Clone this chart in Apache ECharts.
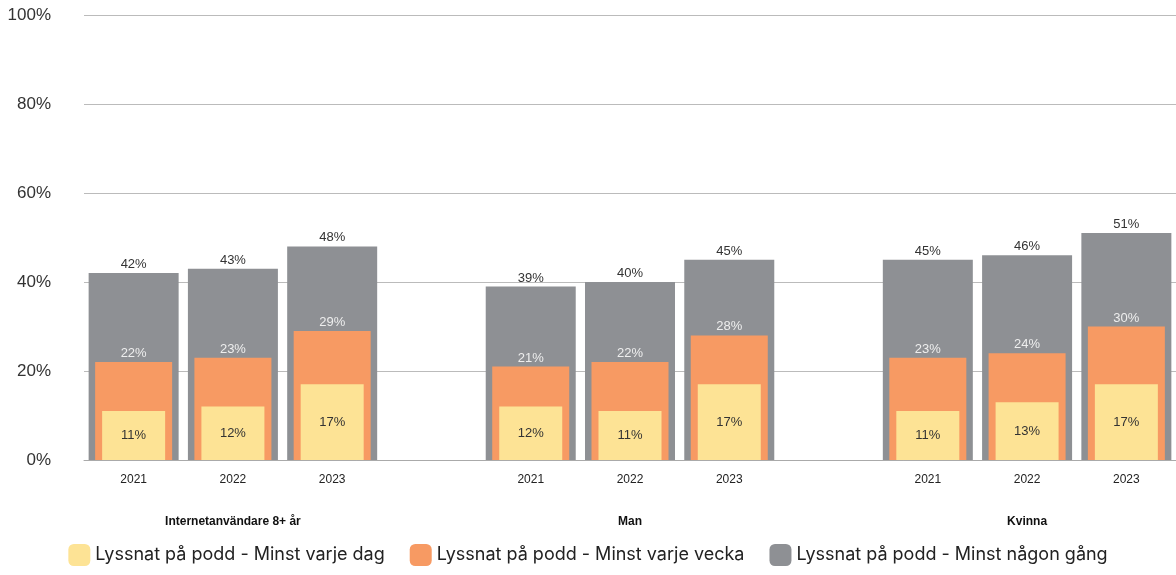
<!DOCTYPE html>
<html>
<head>
<meta charset="utf-8">
<script src="https://cdn.jsdelivr.net/npm/echarts@6/dist/echarts.min.js"></script>
<style>
html, body { margin: 0; padding: 0; background: #fff; }
#chart { width: 1176px; height: 575px; }
</style>
</head>
<body>
<div id="chart"></div>
<script>
// slots: 3 years per group, empty slot between groups
var years = ['2021', '2022', '2023', '', '2021', '2022', '2023', '', '2021', '2022', '2023'];
var groupLabels = ['', 'Internetanvändare 8+ år', '', '', '', 'Man', '', '', '', 'Kvinna', ''];
var seriesNames = ['Lyssnat på podd - Minst varje dag', 'Lyssnat på podd - Minst varje vecka', 'Lyssnat på podd - Minst någon gång'];
var dailyValues = [11, 12, 17, null, 12, 11, 17, null, 11, 13, 17];
var weeklyValues = [22, 23, 29, null, 21, 22, 28, null, 23, 24, 30];
var everValues = [42, 43, 48, null, 39, 40, 45, null, 45, 46, 51];
var yTicks = [0, 20, 40, 60, 80, 100];

var slotKeys = years.map(function(y, i) { return i + '|' + y; });

var myChart = echarts.init(document.getElementById('chart'));
var font = "'Liberation Sans', Arial, sans-serif";

// overlay axes so each series is centred in its own slot
function hiddenAxis() {
	return {
		type: 'category',
		data: slotKeys,
		show: false
	};
}

var option = {
	animation: false,
	textStyle: { fontFamily: font },
	grid: {
		left: 84,
		right: 0,
		top: 15,
		bottom: 115
	},
	legend: {
		bottom: 4,
		left: 'center',
		data: seriesNames,
		icon: 'roundRect',
		itemWidth: 22,
		itemHeight: 22,
		itemGap: 25,
		textStyle: {
			fontFamily: "Inter, 'Noto Sans', sans-serif",
			fontSize: 18,
			color: '#222'
		}
	},
	xAxis: [{
		type: 'category',
		data: slotKeys,
		axisLine: { show: true, lineStyle: { color: '#aaa', width: 1 } },
		axisTick: { show: false },
		axisLabel: {
			margin: 14,
			fontSize: 12,
			color: '#222',
			interval: 0,
			formatter: function(v) { return v.split('|')[1]; }
		}
	}, {
		type: 'category',
		position: 'bottom',
		offset: 48,
		data: slotKeys,
		axisLine: { show: false },
		axisTick: { show: false },
		axisLabel: {
			interval: 0,
			fontSize: 12,
			fontWeight: 'bold',
			color: '#111',
			formatter: function(v) { return groupLabels[+v.split('|')[0]]; }
		}
	}, hiddenAxis(), hiddenAxis()],
	yAxis: {
		type: 'value',
		min: 0,
		max: 100,
		interval: 20,
		axisLine: { show: false },
		axisTick: { show: false },
		axisLabel: {
			margin: 33,
			fontSize: 17,
			color: '#333',
			formatter: function(v) { return yTicks.indexOf(v) >= 0 ? v + '%' : ''; }
		},
		splitLine: { lineStyle: { color: '#bbb', width: 1 } }
	},
	series: [{
		name: seriesNames[2],
		type: 'bar',
		xAxisIndex: 0,
		data: everValues,
		barWidth: 90,
		itemStyle: { color: '#8e9094' },
		label: {
			show: true,
			position: 'top',
			distance: 2,
			fontSize: 13,
			color: '#333',
			formatter: '{c}%'
		}
	}, {
		name: seriesNames[1],
		type: 'bar',
		xAxisIndex: 2,
		data: weeklyValues,
		barWidth: 77,
		itemStyle: { color: '#f79a63' },
		label: {
			show: true,
			position: 'top',
			distance: 2,
			fontSize: 13,
			color: '#eeeeee',
			formatter: '{c}%'
		}
	}, {
		name: seriesNames[0],
		type: 'bar',
		xAxisIndex: 3,
		data: dailyValues,
		barWidth: 63,
		itemStyle: { color: '#fde395' },
		label: {
			show: true,
			position: 'inside',
			fontSize: 13,
			color: '#333',
			formatter: '{c}%'
		}
	}]
};

myChart.setOption(option);
</script>
</body>
</html>
